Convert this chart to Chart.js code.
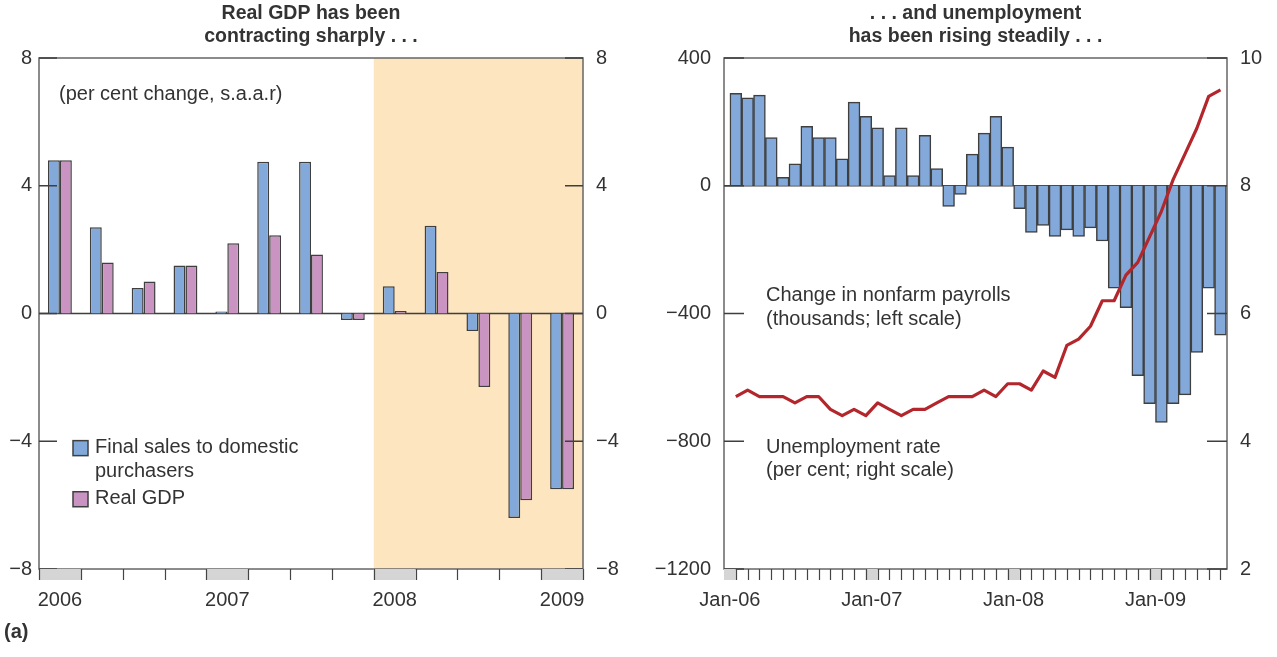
<!DOCTYPE html>
<html>
<head>
<meta charset="utf-8">
<script src="https://cdn.jsdelivr.net/npm/chart.js@4"></script>
<style>
  html, body { margin: 0; padding: 0; background: #fff; }
  #wrap { position: relative; width: 1277px; height: 657px; }
  .panel { position: absolute; top: 0; height: 657px; }
  #gdpPanel { left: 0; width: 640px; }
  #jobsPanel { left: 640px; width: 637px; }
  #note { position: absolute; left: 4px; top: 620px; font: bold 20px "Liberation Sans", Arial, sans-serif; color: #333; }
</style>
</head>
<body>
<div id="wrap">
  <div class="panel" id="gdpPanel"><canvas id="gdpChart" width="640" height="657"></canvas></div>
  <div class="panel" id="jobsPanel"><canvas id="jobsChart" width="637" height="657"></canvas></div>
  <div id="note">(a)</div>
</div>
<script>
// ---- left panel: quarterly growth ----
const quarters = ['2006 Q1', '2006 Q2', '2006 Q3', '2006 Q4',
                  '2007 Q1', '2007 Q2', '2007 Q3', '2007 Q4',
                  '2008 Q1', '2008 Q2', '2008 Q3', '2008 Q4', '2009 Q1'];
const yearLabels = ['2006', '2007', '2008', '2009'];
const finalSales = [4.8, 2.7, 0.8, 1.5, 0.06, 4.75, 4.75, -0.2, 0.85, 2.75, -0.55, -6.4, -5.5];
const realGdp = [4.8, 1.6, 1.0, 1.5, 2.2, 2.45, 1.85, -0.2, 0.08, 1.3, -2.3, -5.85, -5.5];
const gdpTicks = [-8, -4, 0, 4, 8];

// ---- right panel: monthly labour market ----
const months = ['Jan-06', 'Feb-06', 'Mar-06', 'Apr-06', 'May-06', 'Jun-06', 'Jul-06', 'Aug-06', 'Sep-06', 'Oct-06', 'Nov-06', 'Dec-06',
                'Jan-07', 'Feb-07', 'Mar-07', 'Apr-07', 'May-07', 'Jun-07', 'Jul-07', 'Aug-07', 'Sep-07', 'Oct-07', 'Nov-07', 'Dec-07',
                'Jan-08', 'Feb-08', 'Mar-08', 'Apr-08', 'May-08', 'Jun-08', 'Jul-08', 'Aug-08', 'Sep-08', 'Oct-08', 'Nov-08', 'Dec-08',
                'Jan-09', 'Feb-09', 'Mar-09', 'Apr-09', 'May-09', 'Jun-09'];
const payrolls = [289, 275, 284, 151, 26, 69, 186, 151, 151, 84, 262, 217,
                  181, 32, 181, 32, 158, 54, -65, -27, 99, 165, 217, 121,
                  -72, -146, -124, -159, -138, -159, -132, -173, -321, -382, -595, -682,
                  -741, -682, -655, -522, -321, -468];
const unemployment = [4.7, 4.8, 4.7, 4.7, 4.7, 4.6, 4.7, 4.7, 4.5, 4.4, 4.5, 4.4,
                      4.6, 4.5, 4.4, 4.5, 4.5, 4.6, 4.7, 4.7, 4.7, 4.8, 4.7, 4.9,
                      4.9, 4.8, 5.1, 5.0, 5.5, 5.6, 5.8, 6.2, 6.2, 6.6, 6.8, 7.2,
                      7.6, 8.1, 8.5, 8.9, 9.4, 9.5];
const monthTickLabels = ['Jan-06', 'Jan-07', 'Jan-08', 'Jan-09'];
const payrollTicks = [-1200, -800, -400, 0, 400];
const rateTicks = [2, 4, 6, 8, 10];

const FONT = '"Liberation Sans", Arial, Helvetica, sans-serif';
const INK = '#333333';
const BLUE = '#82a9d9';
const PINK = '#c993c2';
const EDGE = '#3f3f3f';

Chart.defaults.font.family = FONT;
Chart.defaults.color = INK;

const fmt = v => v < 0 ? '\u2212' + Math.abs(v) : String(v);
const fixed = (list) => s => { s.ticks = list.map(v => ({ value: v })); };

function drawFrame(chart) {
  const { ctx, chartArea: a } = chart;
  ctx.save();
  ctx.strokeStyle = '#666';
  ctx.lineWidth = 1.5;
  ctx.strokeRect(a.left, a.top, a.right - a.left, a.bottom - a.top);
  ctx.restore();
}

function drawZero(chart, scale) {
  const { ctx, chartArea: a } = chart;
  const y = scale.getPixelForValue(0);
  ctx.save();
  ctx.strokeStyle = EDGE;
  ctx.lineWidth = 1.5;
  ctx.beginPath();
  ctx.moveTo(a.left, y);
  ctx.lineTo(a.right, y);
  ctx.stroke();
  ctx.restore();
}

function drawInnerTicks(chart, scale, len) {
  const { ctx, chartArea: a } = chart;
  ctx.save();
  ctx.strokeStyle = EDGE;
  ctx.lineWidth = 1.5;
  ctx.beginPath();
  scale.ticks.forEach(t => {
    const y = scale.getPixelForValue(t.value);
    ctx.moveTo(a.left, y); ctx.lineTo(a.left + len, y);
    ctx.moveTo(a.right - len, y); ctx.lineTo(a.right, y);
  });
  ctx.stroke();
  ctx.restore();
}

function drawStrip(chart, edges, greys) {
  const { ctx, chartArea: a } = chart;
  const h = 11;
  ctx.save();
  ctx.fillStyle = '#d5d5d5';
  greys.forEach(([x0, x1]) => ctx.fillRect(x0, a.bottom, x1 - x0, h));
  ctx.strokeStyle = '#444';
  ctx.lineWidth = 1.2;
  ctx.beginPath();
  edges.forEach(x => {
    const px = Math.round(x) + 0.5;
    ctx.moveTo(px, a.bottom);
    ctx.lineTo(px, a.bottom + h);
  });
  ctx.stroke();
  ctx.restore();
}

function text(ctx, str, x, y) {
  ctx.fillText(str, x, y);
}

// ---------- left chart ----------
const gdpDeco = {
  id: 'gdpDeco',
  beforeDatasetsDraw(chart) {
    const { ctx, chartArea: a, scales } = chart;
    const start = scales.x.getPixelForValue(quarters.indexOf('2008 Q1') - 0.5);
    ctx.save();
    ctx.fillStyle = '#fde5bf';
    ctx.fillRect(start, a.top, a.right - start, a.bottom - a.top);
    ctx.restore();
    drawZero(chart, scales.y);
  },
  afterDatasetsDraw(chart) {
    const { ctx, chartArea: a, scales } = chart;
    drawFrame(chart);
    drawInnerTicks(chart, scales.y, 18);

    const edges = [];
    const greys = [];
    quarters.forEach((q, i) => {
      const x0 = scales.x.getPixelForValue(i - 0.5);
      const x1 = scales.x.getPixelForValue(i + 0.5);
      edges.push(x0);
      if (q.endsWith('Q1')) greys.push([x0, x1]);
    });
    edges.push(a.right);
    drawStrip(chart, edges, greys);

    ctx.save();
    ctx.font = '20px ' + FONT;
    ctx.fillStyle = INK;
    ctx.textBaseline = 'middle';
    ctx.textAlign = 'left';
    text(ctx, '(per cent change, s.a.a.r)', a.left + 20, scales.y.getPixelForValue(6.85));

    const rows = [
      { color: BLUE, lines: ['Final sales to domestic', 'purchasers'], v: -4.2 },
      { color: PINK, lines: ['Real GDP'], v: -5.8 }
    ];
    rows.forEach(r => {
      const y = scales.y.getPixelForValue(r.v);
      ctx.fillStyle = r.color;
      ctx.fillRect(a.left + 34, y - 7, 15, 15);
      ctx.strokeStyle = EDGE;
      ctx.lineWidth = 1.5;
      ctx.strokeRect(a.left + 34, y - 7, 15, 15);
      ctx.fillStyle = INK;
      r.lines.forEach((ln, k) => text(ctx, ln, a.left + 56, y + k * 23.5));
    });
    ctx.restore();
  }
};

new Chart(document.getElementById('gdpChart'), {
  type: 'bar',
  data: {
    labels: quarters,
    datasets: [
      { label: 'Final sales to domestic purchasers', data: finalSales, backgroundColor: BLUE, borderColor: EDGE, borderWidth: 1.5 },
      { label: 'Real GDP', data: realGdp, backgroundColor: PINK, borderColor: EDGE, borderWidth: 1.5 }
    ]
  },
  options: {
    responsive: false,
    animation: false,
    layout: { padding: 0 },
    datasets: { bar: { categoryPercentage: 0.57, barPercentage: 1 } },
    plugins: {
      legend: { display: false },
      tooltip: { enabled: false },
      title: {
        display: true,
        fullSize: false,
        text: ['Real GDP has been', 'contracting sharply . . .'],
        color: INK,
        font: { size: 19.5, weight: 'bold', family: FONT, lineHeight: '23px' },
        padding: { top: 2, bottom: 10 }
      }
    },
    scales: {
      x: {
        grid: { display: false, drawTicks: false },
        border: { display: false },
        ticks: {
          autoSkip: false, maxRotation: 0, padding: 19,
          font: { size: 20 },
          callback: (v, i) => yearLabels.find(y => quarters[i] === y + ' Q1') || ''
        },
        afterFit: s => { s.height = 88; }
      },
      y: {
        position: 'left', min: -8, max: 8,
        grid: { display: false, drawTicks: false },
        border: { display: false },
        afterBuildTicks: fixed(gdpTicks),
        ticks: { padding: 7, font: { size: 20 }, callback: fmt },
        afterFit: s => { s.width = 39; }
      },
      yR: {
        position: 'right', min: -8, max: 8,
        grid: { display: false, drawTicks: false },
        border: { display: false },
        afterBuildTicks: fixed(gdpTicks),
        ticks: { padding: 13, font: { size: 20 }, callback: fmt },
        afterFit: s => { s.width = 57; }
      }
    }
  },
  plugins: [gdpDeco]
});

// ---------- right chart ----------
const janIdx = months.map((m, i) => m.startsWith('Jan') ? i : -1).filter(i => i >= 0);

const jobsDeco = {
  id: 'jobsDeco',
  beforeDatasetsDraw(chart) {
    drawZero(chart, chart.scales.y);
  },
  afterDatasetsDraw(chart) {
    const { ctx, chartArea: a, scales } = chart;
    drawFrame(chart);
    drawInnerTicks(chart, scales.y, 20);

    const edges = months.map((m, i) => scales.x.getPixelForValue(i));
    const greys = janIdx.map(i => [scales.x.getPixelForValue(i - 1), scales.x.getPixelForValue(i)]);
    drawStrip(chart, edges, greys);

    ctx.save();
    ctx.font = '20px ' + FONT;
    ctx.fillStyle = INK;
    ctx.textBaseline = 'middle';
    ctx.textAlign = 'left';
    const tx = a.left + 42;
    text(ctx, 'Change in nonfarm payrolls', tx, scales.y.getPixelForValue(-345));
    text(ctx, '(thousands; left scale)', tx, scales.y.getPixelForValue(-418));
    text(ctx, 'Unemployment rate', tx, scales.y.getPixelForValue(-820));
    text(ctx, '(per cent; right scale)', tx, scales.y.getPixelForValue(-893));
    ctx.restore();
  }
};

new Chart(document.getElementById('jobsChart'), {
  type: 'bar',
  data: {
    datasets: [
      {
        type: 'line', label: 'Unemployment rate', yAxisID: 'y1', order: 0,
        data: unemployment.map((v, i) => ({ x: i, y: v })),
        borderColor: '#b3262b', borderWidth: 3.2, pointRadius: 0, tension: 0,
        borderJoinStyle: 'round', fill: false
      },
      {
        type: 'bar', label: 'Change in nonfarm payrolls', yAxisID: 'y', order: 1,
        data: payrolls.map((v, i) => ({ x: i, y: v })),
        backgroundColor: BLUE, borderColor: EDGE, borderWidth: 1.5,
        categoryPercentage: 1, barPercentage: 1
      }
    ]
  },
  options: {
    responsive: false,
    animation: false,
    layout: { padding: 0 },
    plugins: {
      legend: { display: false },
      tooltip: { enabled: false },
      title: {
        display: true,
        fullSize: false,
        text: ['. . . and unemployment', 'has been rising steadily . . .'],
        color: INK,
        font: { size: 19.5, weight: 'bold', family: FONT, lineHeight: '23px' },
        padding: { top: 2, bottom: 10 }
      }
    },
    scales: {
      x: {
        type: 'linear', min: -1, max: months.length - 0.45, bounds: 'data', offset: false,
        grid: { display: false, drawTicks: false, offset: false },
        border: { display: false },
        afterBuildTicks: s => { s.ticks = janIdx.map(i => ({ value: i - 0.5 })); },
        ticks: {
          autoSkip: false, maxRotation: 0, padding: 19,
          font: { size: 20 },
          callback: v => monthTickLabels.find(l => l === months[Math.round(v + 0.5)]) || ''
        },
        afterFit: s => { s.height = 88; }
      },
      y: {
        position: 'left', min: -1200, max: 400,
        grid: { display: false, drawTicks: false },
        border: { display: false },
        afterBuildTicks: fixed(payrollTicks),
        ticks: { padding: 13, font: { size: 20 }, callback: fmt },
        afterFit: s => { s.width = 84; }
      },
      y1: {
        position: 'right', min: 2, max: 10,
        grid: { display: false, drawTicks: false },
        border: { display: false },
        afterBuildTicks: fixed(rateTicks),
        ticks: { padding: 13, font: { size: 20 }, callback: fmt },
        afterFit: s => { s.width = 50; }
      }
    }
  },
  plugins: [jobsDeco]
});
</script>
</body>
</html>
